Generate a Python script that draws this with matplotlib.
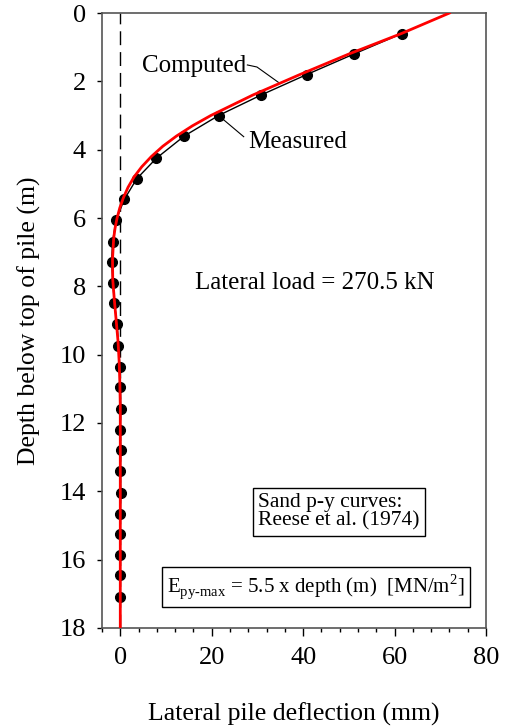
import numpy as np
import matplotlib.pyplot as plt
from matplotlib.ticker import MultipleLocator

plt.rcParams['font.family'] = ['Liberation Serif', 'DejaVu Serif']
plt.rcParams['mathtext.fontset'] = 'custom'
plt.rcParams['mathtext.rm'] = 'Liberation Serif'

# measured deflection profile (mm) vs depth (m)
meas_depth = [0.6, 1.2, 1.8, 2.4, 3.0, 3.6, 4.25, 4.85, 5.45, 6.05, 6.7, 7.3,
              7.9, 8.5, 9.1, 9.75, 10.35, 10.95, 11.6, 12.2, 12.8, 13.4,
              14.05, 14.65, 15.25, 15.85, 16.45, 17.1]
meas_defl = [61.6, 51.1, 40.8, 30.8, 21.5, 14.0, 7.9, 3.6, 0.9, -0.9, -1.7, -1.9,
             -1.6, -1.3, -0.7, -0.4, -0.1, 0.0, 0.1, 0.0, 0.1, 0.0,
             0.1, 0.0, 0.0, -0.1, 0.0, 0.0]

# computed profile
comp_depth = [0.0, 0.6, 1.2, 1.8, 2.4, 3.0, 3.3, 3.6, 3.9, 4.2, 4.5, 4.8, 5.1,
              5.4, 5.7, 6.0, 6.3, 6.6, 7.2, 7.8, 8.4, 9.0, 9.6, 10.2, 10.8,
              11.5, 18.0]
comp_defl = [72.0, 61.5, 50.0, 39.3, 29.0, 19.8, 15.8, 12.3, 9.3, 6.8, 4.7, 3.0,
             1.7, 0.7, -0.1, -0.7, -1.15, -1.45, -1.7, -1.65, -1.3, -0.9, -0.5,
             -0.25, -0.1, 0.0, 0.0]

fig = plt.figure(figsize=(5.09, 7.28), dpi=100)
ax = fig.add_axes([0.2004, 0.1374, 0.7544, 0.8447])

ax.axvline(0, color='black', lw=1.0, dashes=(10, 5), zorder=1)
ax.plot(meas_defl, meas_depth, color='black', lw=1.0, marker='o', ms=7, zorder=2)
ax.plot(comp_defl, comp_depth, color='red', lw=2.0, zorder=3)

# annotations with leader lines
ax.plot([27.8, 29.9, 34.6], [1.52, 1.58, 2.03], color='black', lw=0.8)
ax.text(27.6, 1.55, 'Computed', ha='right', va='center', fontsize=18)
ax.plot([21.5, 27.0], [3.0, 3.62], color='black', lw=0.8)
ax.text(28.0, 3.78, 'Measured', ha='left', va='center', fontsize=18)
ax.text(16.4, 7.9, 'Lateral load = 270.5 kN', ha='left', va='center', fontsize=18)

ax.text(30.2, 14.6, 'Sand p-y curves:\nReese et al. (1974)', ha='left', va='center',
        fontsize=15.5, linespacing=0.95,
        bbox=dict(boxstyle='square,pad=0.25', fc='white', ec='black', lw=1.0))
ax.text(10.2, 16.8, r'E$_{\mathrm{py\text{-}max}}$ = 5.5 x depth (m)  [MN/m$^{2}$]',
        ha='left', va='center', fontsize=15,
        bbox=dict(boxstyle='square,pad=0.25', fc='white', ec='black', lw=1.0))

ax.set_xlim(-4, 80)
ax.set_ylim(18, 0)
ax.xaxis.set_major_locator(MultipleLocator(20))
ax.xaxis.set_minor_locator(MultipleLocator(4))
ax.yaxis.set_major_locator(MultipleLocator(2))
ax.tick_params(axis='x', which='major', length=6, width=1, labelsize=19, pad=8)
ax.tick_params(axis='x', which='minor', length=3, width=1)
ax.tick_params(axis='y', which='major', length=3.5, width=1, labelsize=19, pad=8)
for s in ax.spines.values():
    s.set_color('#555555')
    s.set_linewidth(1.2)

ax.set_xlabel('Lateral pile deflection (mm)', fontsize=18.5, labelpad=24)
ax.set_ylabel('Depth below top of pile (m)', fontsize=18.5, labelpad=13)

fig.savefig('out.png', dpi=100)
